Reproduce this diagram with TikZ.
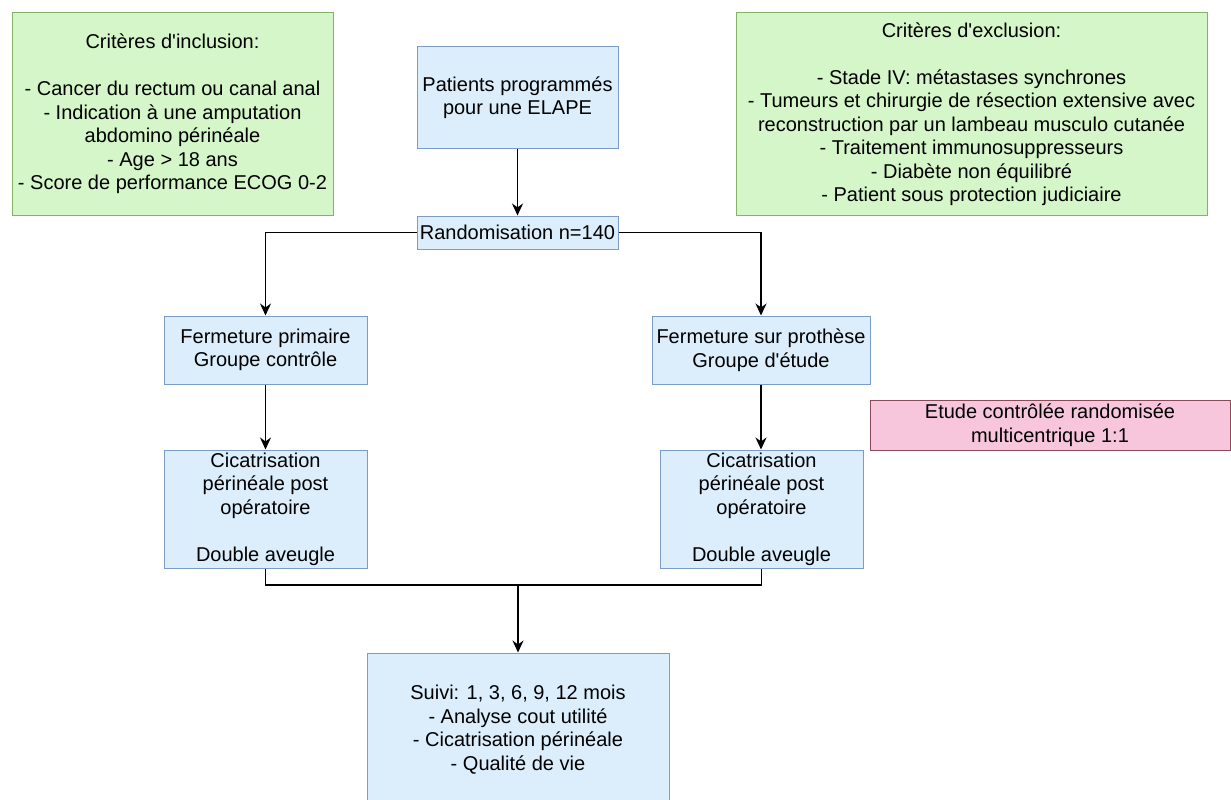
\documentclass[tikz,border=0pt]{standalone}
\usepackage{fontspec}
\setmainfont{Liberation Sans}
\usetikzlibrary{arrows.meta}
\definecolor{bluefill}{RGB}{220,238,252}
\definecolor{bluedraw}{RGB}{122,156,198}
\definecolor{greenfill}{RGB}{213,246,200}
\definecolor{greendraw}{RGB}{130,179,102}
\definecolor{pinkfill}{RGB}{248,198,220}
\definecolor{pinkdraw}{RGB}{138,74,90}
\begin{document}
\begin{tikzpicture}[x=1pt,y=-1pt,
        box/.style={draw=bluedraw,fill=bluefill,line width=1pt,inner sep=0pt,align=center,
            font=\fontsize{20}{23.5}\selectfont},
        crit/.style={box,draw=greendraw,fill=greenfill},
        note/.style={box,draw=pinkdraw,fill=pinkfill},
        link/.style={line width=1.3pt},
        arr/.style={link,-{Stealth[length=12pt,width=11pt]}}]
        \useasboundingbox (0,0) rectangle (1231,800);

        %criteria
        \node[crit,minimum width=321pt,minimum height=202pt] (incl) at (172.5,114)
            {Critères d\textquotesingle inclusion:\\ \mbox{}\\ - Cancer du rectum ou canal anal\\ - Indication à une amputation\\ abdomino périnéale\\ - Age > 18 ans\\ - Score de performance ECOG 0-2};
        \node[crit,minimum width=471pt,minimum height=202pt] (excl) at (971.5,114)
            {Critères d\textquotesingle exclusion:\\ \mbox{}\\ - Stade IV: métastases synchrones\\ - Tumeurs et chirurgie de résection extensive avec\\ reconstruction par un lambeau musculo cutanée\\ - Traitement immunosuppresseurs\\ - Diabète non équilibré\\ - Patient sous protection judiciaire};

        %main column
        \node[box,minimum width=201pt,minimum height=101pt] (patients) at (517.5,97.5)
            {Patients programmés\\ pour une ELAPE};
        \node[box,minimum width=201pt,minimum height=33pt] (rando) at (517.5,232.5)
            {Randomisation n=140};

        %groups
        \node[box,minimum width=203pt,minimum height=68pt] (prim) at (265.5,350)
            {Fermeture primaire\\ Groupe contrôle};
        \node[box,minimum width=218pt,minimum height=68pt] (proth) at (761,350)
            {Fermeture sur prothèse\\ Groupe d\textquotesingle étude};
        \node[note,minimum width=360pt,minimum height=50pt] (design) at (1050,425)
            {Etude contrôlée randomisée\\ multicentrique 1:1};
        \node[box,minimum width=203pt,minimum height=118pt] (cicaprim) at (265.5,509)
            {Cicatrisation\\ périnéale post\\ opératoire\\ \mbox{}\\ Double aveugle};
        \node[box,minimum width=203pt,minimum height=118pt] (cicaproth) at (761.5,509)
            {Cicatrisation\\ périnéale post\\ opératoire\\ \mbox{}\\ Double aveugle};

        %follow-up
        \node[box,minimum width=302pt,minimum height=153pt] (suivi) at (518,729.5)
            {Suivi: 1, 3, 6, 9, 12 mois\\ - Analyse cout utilité\\ - Cicatrisation périnéale\\ - Qualité de vie};
        \coordinate (join) at (518,585);

        %arrows
        \draw[arr] (patients) -- (rando);
        \draw[arr] (rando.west) -| (prim.north);
        \draw[arr] (rando.east) -| (proth.north);
        \draw[arr] (prim) -- (cicaprim);
        \draw[arr] (proth.south) -- (proth.south |- cicaproth.north);
        \draw[link] (cicaprim.south) |- (join) -| (cicaproth.south);
        \draw[arr] (join) -- (suivi);
    \end{tikzpicture}
\end{document}
